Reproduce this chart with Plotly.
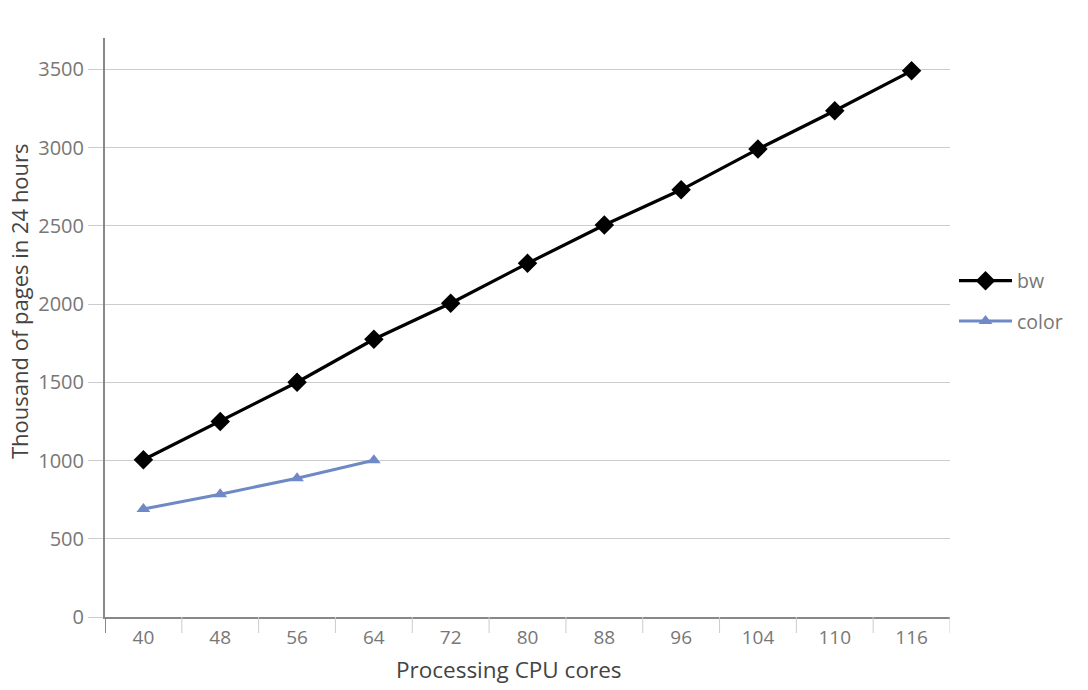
import plotly.graph_objects as go

cores = ["40", "48", "56", "64", "72", "80", "88", "96", "104", "110", "116"]
bw_values = [1005, 1250, 1500, 1775, 2005, 2260, 2505, 2730, 2990, 3235, 3490]
color_cores = ["40", "48", "56", "64"]
color_values = [690, 785, 887, 1002]

W, H = 1088, 690
ML, MT = 105, 38
PW, PH = 845, 579
MR, MB = W - ML - PW, H - MT - PH


def px_x(px):
    return (px - ML) / PW


def px_y(py):
    return (H - MB - py) / PH


fig = go.Figure()
fig.add_trace(go.Scatter(
    x=cores, y=bw_values, name="bw", mode="lines+markers",
    line=dict(color="#000000", width=3.2),
    marker=dict(symbol="diamond", size=15, color="#000000"),
    legendgroup="a",
))
fig.add_trace(go.Scatter(
    x=color_cores, y=color_values, name="color", mode="lines+markers",
    line=dict(color="#6f89c6", width=3),
    marker=dict(symbol="triangle-up", size=12, color="#6f89c6"),
    legendgroup="b",
))

# category boundary tick marks below the x axis
for i in range(len(cores) + 1):
    fig.add_shape(type="line", xref="x", yref="paper",
                  x0=i - 0.5, x1=i - 0.5, y0=0, y1=-16 / PH,
                  line=dict(color="#888888" if i == 0 else "#cccccc",
                            width=2 if i == 0 else 1))

fig.add_annotation(text="Processing CPU cores", xref="paper", yref="paper",
                   x=px_x(508), y=px_y(669), showarrow=False,
                   font=dict(family="Open Sans", size=22.5, color="#444444"),
                   xanchor="center", yanchor="middle")
fig.add_annotation(text="Thousand of pages in 24 hours", xref="paper", yref="paper",
                   x=px_x(19), y=px_y(301), showarrow=False,
                   textangle=-90,
                   font=dict(family="Open Sans", size=22, color="#444444"),
                   xanchor="center", yanchor="middle")

fig.update_layout(
    width=W, height=H,
    margin=dict(l=ML, r=MR, t=MT, b=MB, autoexpand=False),
    paper_bgcolor="white", plot_bgcolor="white",
    font=dict(family="Open Sans", color="#777777"),
    showlegend=True,
    legend=dict(x=px_x(954), xanchor="left", y=px_y(301), yanchor="middle",
                font=dict(size=19.5, color="#777777"),
                traceorder="grouped", tracegroupgap=12,
                itemwidth=53,
                bgcolor="rgba(0,0,0,0)"),
    xaxis=dict(type="category", range=[-0.5, len(cores) - 0.5],
               showline=True, linecolor="#888888", linewidth=2,
               showgrid=False, ticks="", zeroline=False,
               tickfont=dict(size=19, color="#777777"),
               ticklabelstandoff=2, fixedrange=True),
    yaxis=dict(range=[0, 3700], dtick=500, tick0=0,
               showline=True, linecolor="#888888", linewidth=2,
               showgrid=True, gridcolor="#cccccc", gridwidth=1,
               ticks="outside", ticklen=15, tickcolor="#cccccc", tickwidth=1,
               zeroline=False,
               tickfont=dict(size=20, color="#777777")),
)

fig.write_html("out.html", config={"displayModeBar": False},
               post_script="document.body.style.margin='0';")
